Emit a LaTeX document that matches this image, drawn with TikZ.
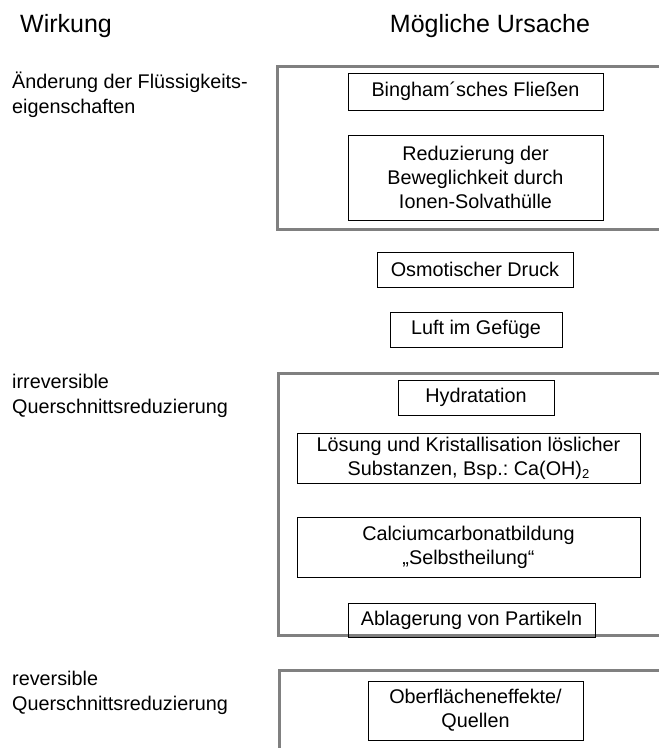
\documentclass[tikz,border=0pt]{standalone}
\usepackage{fontspec}
\setmainfont{Liberation Sans}
\frenchspacing
\usetikzlibrary{positioning}

\newcommand{\tief}[1]{\raisebox{-0.35ex}{\fontsize{13}{13}\selectfont #1}}

\begin{document}
\begin{tikzpicture}[
    x=1pt, y=-1pt,
    head/.style={font=\fontsize{25}{30}\selectfont, inner sep=0pt},
    effect/.style={font=\fontsize{19.8}{25}\selectfont, align=left, anchor=base west, inner sep=0pt},
    cause/.style={rectangle, draw, line width=1pt, font=\fontsize{19.8}{24}\selectfont, align=center, inner sep=0pt},
    frame/.style={draw=gray, line width=3pt}
]
    \useasboundingbox (0,0) rectangle (659,748);

    \node[head, anchor=base west] (wirkung) at (20,32) {Wirkung};
    \node[head, anchor=base] (ursache) at (490,32) {Mögliche Ursache};

    % Wirkungen (Anker = letzte Zeile)
    \node[effect] (fluid) at (12,113) {Änderung der Flüssigkeits-\\eigenschaften};
    \node[effect] (irrev) at (12,413) {irreversible\\Querschnittsreduzierung};
    \node[effect] (rev) at (12,710) {reversible\\Querschnittsreduzierung};

    % Rahmen
    \draw[frame] (659,66) -- (277,66) -- (277,229) -- (659,229);
    \draw[frame] (659,373) -- (278,373) -- (278,635) -- (659,635);
    \draw[frame] (659,670) -- (279,670) -- (279,748);

    % Ursachen
    \node[cause, minimum width=255, minimum height=37] (bingham) at (475.5,91.5) {Bingham´sches Fließen};
    \node[cause, minimum width=255, minimum height=85] (solvat) at (475.5,177.5) {Reduzierung der\\Beweglichkeit durch\\Ionen-Solvathülle};
    \node[cause, minimum width=196, minimum height=35] (osmose) at (475,269.5) {Osmotischer Druck};
    \node[cause, minimum width=172, minimum height=35] (luft) at (476,329.5) {Luft im Gefüge};
    \node[cause, minimum width=156, minimum height=35] (hydrat) at (476,397.5) {Hydratation};
    \node[cause, minimum width=343, minimum height=50] (loesung) at (468.5,458) {Lösung und Kristallisation löslicher\\Substanzen, Bsp.: Ca(OH)\tief{2}};
    \node[cause, minimum width=343, minimum height=60] (calcium) at (468.5,547) {Calciumcarbonatbildung\\„Selbstheilung“};
    \node[cause, minimum width=247, minimum height=34] (partikel) at (471.5,620) {Ablagerung von Partikeln};
    \node[cause, minimum width=215, minimum height=59] (quellen) at (475.5,710.5) {Oberflächeneffekte/\\Quellen};
\end{tikzpicture}
\end{document}
